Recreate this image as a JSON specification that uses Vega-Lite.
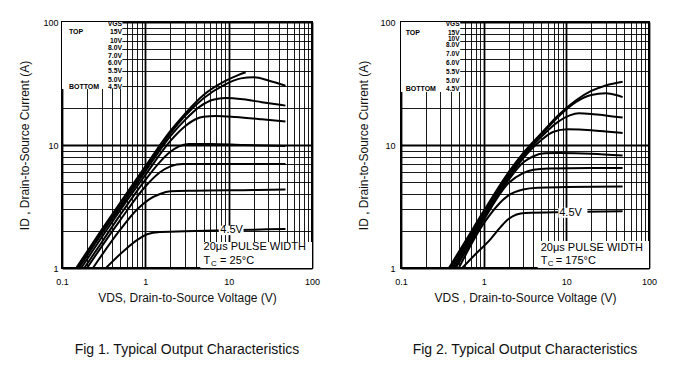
{
  "$schema": "https://vega.github.io/schema/vega-lite/v6.json",
  "padding": {"left": 17, "top": 17, "right": 5, "bottom": 5},
  "spacing": 89,
  "bounds": "flush",
  "config": {
    "font": "Liberation Sans",
    "view": {"stroke": "black", "strokeWidth": 2},
    "axis": {
      "grid": true, "gridColor": "#000", "gridOpacity": 1, "domain": false, "ticks": false,
      "labelFont": "Liberation Sans", "labelFontSize": 9, "labelColor": "#000", "labelFlush": false, "labelOverlap": false,
      "titleFont": "Liberation Sans", "titleFontSize": 12, "titleFontWeight": "normal", "titleColor": "#111"
    },
    "title": {"font": "Liberation Sans", "fontSize": 14, "fontWeight": "normal", "color": "#111", "orient": "bottom", "anchor": "middle", "offset": 40}
  },
  "datasets": {
    "c1": [
      {"vgs":"15V","x":0.148,"y":1},{"vgs":"15V","x":0.3,"y":2.05},{"vgs":"15V","x":0.5,"y":3.4},{"vgs":"15V","x":1,"y":6.7},{"vgs":"15V","x":2,"y":13},{"vgs":"15V","x":3,"y":18},{"vgs":"15V","x":5,"y":25.5},{"vgs":"15V","x":9,"y":33},{"vgs":"15V","x":13,"y":37},{"vgs":"15V","x":16,"y":39},
      {"vgs":"10V","x":0.155,"y":1},{"vgs":"10V","x":0.3,"y":1.95},{"vgs":"10V","x":0.5,"y":3.25},{"vgs":"10V","x":1,"y":6.4},{"vgs":"10V","x":2,"y":12.5},{"vgs":"10V","x":3,"y":17.3},{"vgs":"10V","x":5,"y":24},{"vgs":"10V","x":9,"y":31},{"vgs":"10V","x":14,"y":34.8},{"vgs":"10V","x":20,"y":35.5},{"vgs":"10V","x":30,"y":33.5},{"vgs":"10V","x":48,"y":30.3},
      {"vgs":"8.0V","x":0.16,"y":1},{"vgs":"8.0V","x":0.3,"y":1.9},{"vgs":"8.0V","x":0.5,"y":3.1},{"vgs":"8.0V","x":1,"y":6.1},{"vgs":"8.0V","x":2,"y":11.8},{"vgs":"8.0V","x":3,"y":16},{"vgs":"8.0V","x":4.5,"y":20.5},{"vgs":"8.0V","x":6.5,"y":23.3},{"vgs":"8.0V","x":9.2,"y":24.1},{"vgs":"8.0V","x":15,"y":23.5},{"vgs":"8.0V","x":25,"y":22.3},{"vgs":"8.0V","x":48,"y":20.9},
      {"vgs":"7.0V","x":0.17,"y":1},{"vgs":"7.0V","x":0.3,"y":1.78},{"vgs":"7.0V","x":0.5,"y":2.95},{"vgs":"7.0V","x":1,"y":5.7},{"vgs":"7.0V","x":2,"y":10.8},{"vgs":"7.0V","x":3,"y":14.2},{"vgs":"7.0V","x":4,"y":16.2},{"vgs":"7.0V","x":5,"y":17},{"vgs":"7.0V","x":7,"y":17.2},{"vgs":"7.0V","x":12,"y":16.9},{"vgs":"7.0V","x":25,"y":16.2},{"vgs":"7.0V","x":48,"y":15.5},
      {"vgs":"6.0V","x":0.185,"y":1},{"vgs":"6.0V","x":0.3,"y":1.62},{"vgs":"6.0V","x":0.5,"y":2.7},{"vgs":"6.0V","x":1,"y":5.2},{"vgs":"6.0V","x":1.5,"y":7.3},{"vgs":"6.0V","x":2,"y":8.8},{"vgs":"6.0V","x":2.5,"y":9.7},{"vgs":"6.0V","x":3.3,"y":10.2},{"vgs":"6.0V","x":6,"y":10.2},{"vgs":"6.0V","x":15,"y":10},{"vgs":"6.0V","x":48,"y":9.8},
      {"vgs":"5.5V","x":0.2,"y":1},{"vgs":"5.5V","x":0.3,"y":1.5},{"vgs":"5.5V","x":0.5,"y":2.45},{"vgs":"5.5V","x":1,"y":4.6},{"vgs":"5.5V","x":1.5,"y":6.0},{"vgs":"5.5V","x":2,"y":6.7},{"vgs":"5.5V","x":2.8,"y":7.0},{"vgs":"5.5V","x":10,"y":7.0},{"vgs":"5.5V","x":48,"y":7.0},
      {"vgs":"5.0V","x":0.235,"y":1},{"vgs":"5.0V","x":0.5,"y":2.05},{"vgs":"5.0V","x":0.8,"y":3.0},{"vgs":"5.0V","x":1.1,"y":3.6},{"vgs":"5.0V","x":1.5,"y":4.0},{"vgs":"5.0V","x":2,"y":4.2},{"vgs":"5.0V","x":4,"y":4.25},{"vgs":"5.0V","x":20,"y":4.3},{"vgs":"5.0V","x":48,"y":4.35},
      {"vgs":"4.5V","x":0.337,"y":1},{"vgs":"4.5V","x":0.586,"y":1.43},{"vgs":"4.5V","x":0.81,"y":1.7},{"vgs":"4.5V","x":1.05,"y":1.88},{"vgs":"4.5V","x":1.5,"y":1.96},{"vgs":"4.5V","x":4,"y":2.0},{"vgs":"4.5V","x":20,"y":2.05},{"vgs":"4.5V","x":48,"y":2.08}
    ],
    "c2": [
      {"vgs":"15V","x":0.38,"y":1},{"vgs":"15V","x":0.6,"y":1.65},{"vgs":"15V","x":1,"y":2.9},{"vgs":"15V","x":2,"y":6.0},{"vgs":"15V","x":3,"y":8.6},{"vgs":"15V","x":5,"y":12.5},{"vgs":"15V","x":8,"y":17.5},{"vgs":"15V","x":13,"y":23},{"vgs":"15V","x":20,"y":27.5},{"vgs":"15V","x":30,"y":30.5},{"vgs":"15V","x":48,"y":32.7},
      {"vgs":"10V","x":0.39,"y":1},{"vgs":"10V","x":0.6,"y":1.6},{"vgs":"10V","x":1,"y":2.8},{"vgs":"10V","x":2,"y":5.8},{"vgs":"10V","x":3,"y":8.4},{"vgs":"10V","x":5,"y":12.2},{"vgs":"10V","x":8,"y":17},{"vgs":"10V","x":13,"y":22.3},{"vgs":"10V","x":20,"y":25.5},{"vgs":"10V","x":30,"y":26.3},{"vgs":"10V","x":40,"y":25.5},{"vgs":"10V","x":48,"y":24.5},
      {"vgs":"8.0V","x":0.4,"y":1},{"vgs":"8.0V","x":0.6,"y":1.57},{"vgs":"8.0V","x":1,"y":2.75},{"vgs":"8.0V","x":2,"y":5.6},{"vgs":"8.0V","x":3,"y":8.1},{"vgs":"8.0V","x":5,"y":11.7},{"vgs":"8.0V","x":8,"y":15.5},{"vgs":"8.0V","x":11,"y":17.4},{"vgs":"8.0V","x":14.2,"y":18.1},{"vgs":"8.0V","x":20,"y":17.9},{"vgs":"8.0V","x":30,"y":17.4},{"vgs":"8.0V","x":48,"y":16.7},
      {"vgs":"7.0V","x":0.42,"y":1},{"vgs":"7.0V","x":0.6,"y":1.5},{"vgs":"7.0V","x":1,"y":2.65},{"vgs":"7.0V","x":2,"y":5.4},{"vgs":"7.0V","x":3,"y":7.8},{"vgs":"7.0V","x":5,"y":11},{"vgs":"7.0V","x":7,"y":12.8},{"vgs":"7.0V","x":10.3,"y":13.4},{"vgs":"7.0V","x":20,"y":13.2},{"vgs":"7.0V","x":30,"y":12.9},{"vgs":"7.0V","x":48,"y":12.5},
      {"vgs":"6.0V","x":0.44,"y":1},{"vgs":"6.0V","x":0.6,"y":1.42},{"vgs":"6.0V","x":1,"y":2.55},{"vgs":"6.0V","x":2,"y":5.2},{"vgs":"6.0V","x":3,"y":7.2},{"vgs":"6.0V","x":4,"y":8.1},{"vgs":"6.0V","x":5.5,"y":8.55},{"vgs":"6.0V","x":8,"y":8.6},{"vgs":"6.0V","x":20,"y":8.5},{"vgs":"6.0V","x":48,"y":8.2},
      {"vgs":"5.5V","x":0.46,"y":1},{"vgs":"5.5V","x":0.6,"y":1.35},{"vgs":"5.5V","x":1,"y":2.45},{"vgs":"5.5V","x":2,"y":4.9},{"vgs":"5.5V","x":3,"y":5.9},{"vgs":"5.5V","x":4,"y":6.3},{"vgs":"5.5V","x":6,"y":6.45},{"vgs":"5.5V","x":20,"y":6.5},{"vgs":"5.5V","x":48,"y":6.5},
      {"vgs":"5.0V","x":0.5,"y":1},{"vgs":"5.0V","x":1,"y":2.3},{"vgs":"5.0V","x":2,"y":3.9},{"vgs":"5.0V","x":3,"y":4.35},{"vgs":"5.0V","x":4.5,"y":4.5},{"vgs":"5.0V","x":10,"y":4.55},{"vgs":"5.0V","x":48,"y":4.6},
      {"vgs":"4.5V","x":0.55,"y":1},{"vgs":"4.5V","x":0.8,"y":1.3},{"vgs":"4.5V","x":1.16,"y":1.66},{"vgs":"4.5V","x":1.6,"y":2.15},{"vgs":"4.5V","x":2.0,"y":2.5},{"vgs":"4.5V","x":2.5,"y":2.72},{"vgs":"4.5V","x":3.2,"y":2.8},{"vgs":"4.5V","x":10,"y":2.85},{"vgs":"4.5V","x":48,"y":2.9}
    ],
    "box1": [
      {"x":0.1,"x2":0.53,"y":28.5,"y2":100},
      {"x":4.57,"x2":100,"y":1,"y2":1.63},
      {"x":7.6,"x2":15.1,"y":1.85,"y2":2.21}
    ],
    "box2": [
      {"x":0.1,"x2":0.52,"y":27,"y2":100},
      {"x":4.5,"x2":100,"y":1,"y2":1.66},
      {"x":8.0,"x2":18.0,"y":2.56,"y2":3.09}
    ],
    "lgR1": [
      {"x":0.525,"y":96,"t":"VGS"},{"x":0.525,"y":82.5,"t":"15V"},{"x":0.525,"y":70.5,"t":"10V"},{"x":0.525,"y":61.5,"t":"8.0V"},{"x":0.525,"y":53,"t":"7.0V"},{"x":0.525,"y":46.4,"t":"6.0V"},{"x":0.525,"y":40.2,"t":"5.5V"},{"x":0.525,"y":33.8,"t":"5.0V"},{"x":0.525,"y":29.5,"t":"4.5V"}
    ],
    "lgL1": [
      {"x":0.121,"y":82.5,"t":"TOP"},{"x":0.121,"y":29.5,"t":"BOTTOM"}
    ],
    "lgR2": [
      {"x":0.51,"y":95.8,"t":"VGS"},{"x":0.51,"y":81,"t":"15V"},{"x":0.51,"y":72.5,"t":"10V"},{"x":0.51,"y":64.8,"t":"8.0V"},{"x":0.51,"y":55,"t":"7.0V"},{"x":0.51,"y":46,"t":"6.0V"},{"x":0.51,"y":39,"t":"5.5V"},{"x":0.51,"y":33.2,"t":"5.0V"},{"x":0.51,"y":28.4,"t":"4.5V"}
    ],
    "lgL2": [
      {"x":0.114,"y":81,"t":"TOP"},{"x":0.114,"y":28.4,"t":"BOTTOM"}
    ],
    "note1": [
      {"x":7.94,"y":2.04,"t":"4.5V"},{"x":5.0,"y":1.47,"t":"20μs PULSE WIDTH"},{"x":5.0,"y":1.13,"t":"T"}
    ],
    "sub1": [{"x":5.0,"y":1.13,"t":"C"}],
    "eq1": [{"x":5.0,"y":1.13,"t":"= 25°C"}],
    "note2": [
      {"x":8.2,"y":2.82,"t":"4.5V"},{"x":4.9,"y":1.46,"t":"20μs PULSE WIDTH"},{"x":4.9,"y":1.14,"t":"T"}
    ],
    "sub2": [{"x":4.9,"y":1.14,"t":"C"}],
    "eq2": [{"x":4.9,"y":1.14,"t":"= 175°C"}]
  },
  "hconcat": [
    {
      "width": 250, "height": 246,
      "title": {"text": "Fig 1.  Typical Output Characteristics"},
      "encoding": {
        "x": {"field": "x", "type": "quantitative",
          "scale": {"type": "log", "domain": [0.1, 100], "nice": false},
          "axis": {"title": "VDS, Drain-to-Source Voltage (V)",
            "values": [0.1,0.2,0.3,0.4,0.5,0.6,0.7,0.8,0.9,1,2,3,4,5,6,7,8,9,10,20,30,40,50,60,70,80,90,100],
            "format": "~g", "labelExpr": "indexof([0.1,1,10,100], datum.value) >= 0 ? datum.label : ''",
            "gridWidth": {"condition": {"test": "indexof([0.1,1,10,100], datum.value) >= 0", "value": 1.8}, "value": 0.9},
            "labelPadding": 9, "titlePadding": 6}},
        "y": {"field": "y", "type": "quantitative",
          "scale": {"type": "log", "domain": [1, 100], "nice": false},
          "axis": {"title": "ID , Drain-to-Source Current (A)",
            "values": [1,2,3,4,5,6,7,8,9,10,20,30,40,50,60,70,80,90,100],
            "format": "~g", "labelExpr": "indexof([1,10,100], datum.value) >= 0 ? datum.label : ''",
            "gridWidth": {"condition": {"test": "indexof([1,10,100], datum.value) >= 0", "value": 1.8}, "value": 0.9},
            "labelPadding": 4, "titlePadding": 11}}
      },
      "layer": [
        {"data": {"name": "c1"}, "mark": {"type": "line", "color": "black", "strokeWidth": 2, "interpolate": "monotone", "clip": true}, "encoding": {"detail": {"field": "vgs"}}},
        {"data": {"name": "box1"}, "mark": {"type": "rect", "color": "white", "opacity": 1}, "encoding": {"x2": {"field": "x2"}, "y2": {"field": "y2"}}},
        {"data": {"name": "lgR1"}, "mark": {"type": "text", "align": "right", "baseline": "middle", "fontSize": 6.8, "fontWeight": "bold", "color": "#000"}, "encoding": {"text": {"field": "t"}}},
        {"data": {"name": "lgL1"}, "mark": {"type": "text", "align": "left", "baseline": "middle", "fontSize": 7, "fontWeight": "bold", "color": "#000"}, "encoding": {"text": {"field": "t"}}},
        {"data": {"name": "note1"}, "mark": {"type": "text", "align": "left", "baseline": "middle", "fontSize": 11, "color": "#000"}, "encoding": {"text": {"field": "t"}}},
        {"data": {"name": "sub1"}, "mark": {"type": "text", "align": "left", "baseline": "middle", "fontSize": 8, "dx": 7.5, "dy": 3, "color": "#000"}, "encoding": {"text": {"field": "t"}}},
        {"data": {"name": "eq1"}, "mark": {"type": "text", "align": "left", "baseline": "middle", "fontSize": 11, "dx": 16.5, "color": "#000"}, "encoding": {"text": {"field": "t"}}}
      ]
    },
    {
      "width": 248, "height": 246,
      "title": {"text": "Fig 2. Typical Output Characteristics"},
      "encoding": {
        "x": {"field": "x", "type": "quantitative",
          "scale": {"type": "log", "domain": [0.1, 100], "nice": false},
          "axis": {"title": "VDS , Drain-to-Source Voltage (V)",
            "values": [0.1,0.2,0.3,0.4,0.5,0.6,0.7,0.8,0.9,1,2,3,4,5,6,7,8,9,10,20,30,40,50,60,70,80,90,100],
            "format": "~g", "labelExpr": "indexof([0.1,1,10,100], datum.value) >= 0 ? datum.label : ''",
            "gridWidth": {"condition": {"test": "indexof([0.1,1,10,100], datum.value) >= 0", "value": 1.8}, "value": 0.9},
            "labelPadding": 9, "titlePadding": 6}},
        "y": {"field": "y", "type": "quantitative",
          "scale": {"type": "log", "domain": [1, 100], "nice": false},
          "axis": {"title": "ID , Drain-to-Source Current (A)",
            "values": [1,2,3,4,5,6,7,8,9,10,20,30,40,50,60,70,80,90,100],
            "format": "~g", "labelExpr": "indexof([1,10,100], datum.value) >= 0 ? datum.label : ''",
            "gridWidth": {"condition": {"test": "indexof([1,10,100], datum.value) >= 0", "value": 1.8}, "value": 0.9},
            "labelPadding": 6, "titlePadding": 9}}
      },
      "layer": [
        {"data": {"name": "c2"}, "mark": {"type": "line", "color": "black", "strokeWidth": 2, "interpolate": "monotone", "clip": true}, "encoding": {"detail": {"field": "vgs"}}},
        {"data": {"name": "box2"}, "mark": {"type": "rect", "color": "white", "opacity": 1}, "encoding": {"x2": {"field": "x2"}, "y2": {"field": "y2"}}},
        {"data": {"name": "lgR2"}, "mark": {"type": "text", "align": "right", "baseline": "middle", "fontSize": 6.5, "fontWeight": "bold", "color": "#000"}, "encoding": {"text": {"field": "t"}}},
        {"data": {"name": "lgL2"}, "mark": {"type": "text", "align": "left", "baseline": "middle", "fontSize": 7, "fontWeight": "bold", "color": "#000"}, "encoding": {"text": {"field": "t"}}},
        {"data": {"name": "note2"}, "mark": {"type": "text", "align": "left", "baseline": "middle", "fontSize": 11, "color": "#000"}, "encoding": {"text": {"field": "t"}}},
        {"data": {"name": "sub2"}, "mark": {"type": "text", "align": "left", "baseline": "middle", "fontSize": 8, "dx": 7, "dy": 3, "color": "#000"}, "encoding": {"text": {"field": "t"}}},
        {"data": {"name": "eq2"}, "mark": {"type": "text", "align": "left", "baseline": "middle", "fontSize": 11, "dx": 15, "color": "#000"}, "encoding": {"text": {"field": "t"}}}
      ]
    }
  ]
}
